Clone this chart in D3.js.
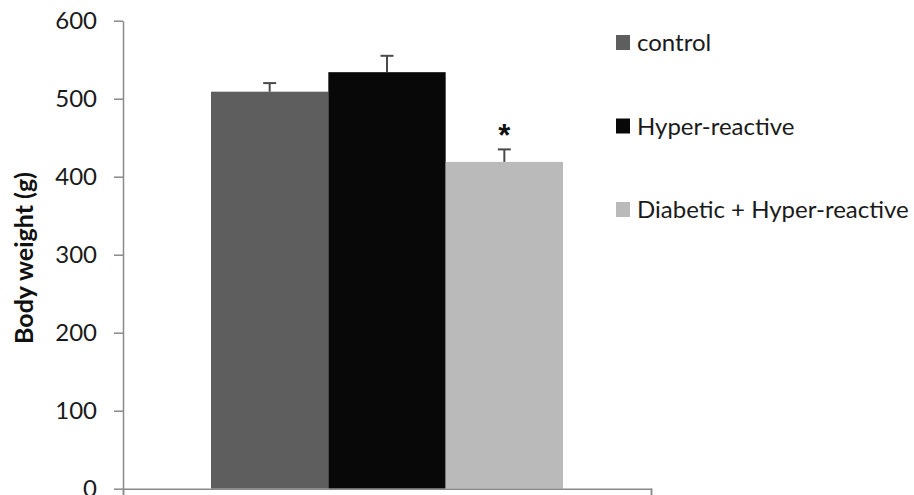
<!DOCTYPE html>
<html>
<head>
<meta charset="utf-8">
<script src="https://cdn.jsdelivr.net/npm/d3@7"></script>
<style>
  body { margin: 0; background: #fff; }
  svg { display: block; font-family: Lato, "Liberation Sans", sans-serif; }
</style>
</head>
<body>
<div id="chart"></div>
<script>
// data
const groups = ["all"];
const seriesNames = ["control", "Hyper-reactive", "Diabetic + Hyper-reactive"];
const means = [509, 534, 419];
const errors = [11, 21, 16];
const marks = ["", "", "*"];
const colors = ["#5e5e5e", "#080808", "#bababa"];
const yTicks = [0, 100, 200, 300, 400, 500, 600];

const width = 914, height = 495;
const plotLeft = 123, plotRight = 651, plotTop = 20.7, plotBottom = 488.7;

const svg = d3.select("#chart").append("svg")
  .attr("width", width)
  .attr("height", height);

const y = d3.scaleLinear().domain([0, 600]).range([plotBottom, plotTop]);

const x0 = d3.scaleBand().domain(groups).range([plotLeft, plotRight])
  .paddingInner(0).paddingOuter(0.25);
const x1 = d3.scaleBand().domain(seriesNames).range([0, x0.bandwidth()]);

const rows = seriesNames.map((name, i) => ({
  name, value: means[i], err: errors[i], mark: marks[i], color: colors[i]
}));

// y axis
const yAxis = svg.append("g")
  .attr("transform", `translate(${plotLeft},0)`)
  .call(d3.axisLeft(y).tickValues(yTicks).tickSize(9).tickPadding(17).tickSizeOuter(0));
yAxis.select(".domain").attr("stroke", "#8a8a8a").attr("stroke-width", 1.5);
yAxis.selectAll(".tick line").attr("stroke", "#8a8a8a").attr("stroke-width", 1.5);
yAxis.selectAll(".tick text")
  .attr("font-family", "Lato, 'Liberation Sans', sans-serif")
  .attr("font-size", 24)
  .attr("fill", "#1a1a1a");

// bars
const g = svg.append("g").attr("transform", `translate(${x0("all")},0)`);
g.selectAll("rect.bar")
  .data(rows)
  .join("rect")
  .attr("class", "bar")
  .attr("x", d => x1(d.name))
  .attr("y", d => y(d.value))
  .attr("width", x1.bandwidth())
  .attr("height", d => y(0) - y(d.value))
  .attr("fill", d => d.color);

// error bars (upper only)
const cap = 6.5;
const eb = g.selectAll("g.err")
  .data(rows)
  .join("g")
  .attr("class", "err")
  .attr("stroke", "#4a4a4a")
  .attr("stroke-width", 2);
eb.append("line")
  .attr("x1", d => x1(d.name) + x1.bandwidth() / 2)
  .attr("x2", d => x1(d.name) + x1.bandwidth() / 2)
  .attr("y1", d => y(d.value))
  .attr("y2", d => y(d.value + d.err));
eb.append("line")
  .attr("x1", d => x1(d.name) + x1.bandwidth() / 2 - cap)
  .attr("x2", d => x1(d.name) + x1.bandwidth() / 2 + cap)
  .attr("y1", d => y(d.value + d.err))
  .attr("y2", d => y(d.value + d.err));

// significance mark
g.selectAll("text.mark")
  .data(rows.filter(d => d.mark))
  .join("text")
  .attr("class", "mark")
  .attr("x", d => x1(d.name) + x1.bandwidth() / 2)
  .attr("y", d => y(d.value + d.err) - 3)
  .attr("text-anchor", "middle")
  .attr("font-family", "'Liberation Sans', sans-serif")
  .attr("font-size", 31)
  .attr("font-weight", "bold")
  .attr("fill", "#111")
  .text(d => d.mark);

// x axis (single category, ticks at both ends)
const xAxis = svg.append("g")
  .attr("transform", `translate(0,${plotBottom})`)
  .call(d3.axisBottom(d3.scaleLinear().domain([0, 1]).range([plotLeft, plotRight]))
    .tickValues([0, 1]).tickSize(7).tickFormat(""));
xAxis.select(".domain").attr("stroke", "#8a8a8a").attr("stroke-width", 1.5);
xAxis.selectAll(".tick line").attr("stroke", "#8a8a8a").attr("stroke-width", 1.5);

// y label
svg.append("text")
  .attr("transform", `translate(33,258) rotate(-90)`)
  .attr("text-anchor", "middle")
  .attr("font-size", 25)
  .attr("font-weight", "bold")
  .attr("fill", "#111")
  .text("Body weight (g)");

// legend
const legend = svg.append("g").attr("transform", "translate(616,42.5)");
const li = legend.selectAll("g")
  .data(rows)
  .join("g")
  .attr("transform", (d, i) => `translate(0,${i * 83.5})`);
li.append("rect")
  .attr("x", 0).attr("y", -7.5)
  .attr("width", 14).attr("height", 15)
  .attr("fill", d => d.color);
li.append("text")
  .attr("x", 21)
  .attr("y", 0)
  .attr("dy", "0.36em")
  .attr("font-size", 24)
  .attr("fill", "#1a1a1a")
  .text(d => d.name);
</script>
</body>
</html>
